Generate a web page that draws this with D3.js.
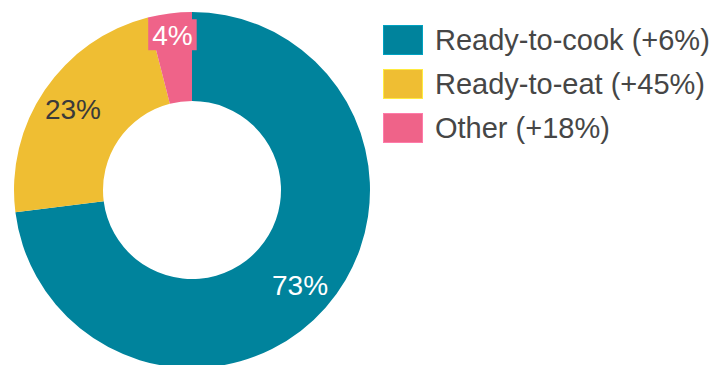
<!DOCTYPE html>
<html>
<head>
<meta charset="utf-8">
<script src="https://cdn.jsdelivr.net/npm/d3@7/dist/d3.min.js"></script>
<style>
  html, body { margin: 0; padding: 0; background: #fff; }
  svg { display: block; font-family: "Liberation Sans", Arial, sans-serif; }
</style>
</head>
<body>
<svg id="chart" width="720" height="365"></svg>
<script>
// Segment shares (percent) and growth figures shown in the legend
const categories = ["Ready-to-cook", "Ready-to-eat", "Other"];
const shares = [73, 23, 4];
const growth = ["+6%", "+45%", "+18%"];
const colors = ["#00839c", "#efbe33", "#ef6389"];
const labelColors = ["#ffffff", "#3a3a3a", "#ffffff"];

const svg = d3.select("#chart");
const cx = 192, cy = 190, outerR = 178, innerR = 89;

const data = categories.map((c, i) => ({ name: c, value: shares[i], growth: growth[i], i }));

const pie = d3.pie().value(d => d.value).sort(null);
const arc = d3.arc().innerRadius(innerR).outerRadius(outerR);
const arcs = pie(data);

const g = svg.append("g").attr("transform", `translate(${cx},${cy})`);

g.selectAll("path.slice")
  .data(arcs)
  .join("path")
  .attr("class", "slice")
  .attr("d", arc)
  .attr("fill", d => colors[d.data.i]);

// Labels sit slightly outside the ring's mid-line; thin slices get pushed further out
const labelArc = d => {
  const span = d.endAngle - d.startAngle;
  const r = span < 0.4 ? 156 : 144;
  return d3.arc().innerRadius(r).outerRadius(r).centroid(d);
};

const labels = g.selectAll("g.lbl")
  .data(arcs)
  .join("g")
  .attr("class", "lbl")
  .attr("transform", d => `translate(${labelArc(d)})`);

labels.each(function (d) {
  const sel = d3.select(this);
  const span = d.endAngle - d.startAngle;
  const t = sel.append("text")
    .attr("text-anchor", "middle")
    .attr("dy", "0.36em")
    .attr("font-size", 28)
    .attr("fill", labelColors[d.data.i])
    .text(d.data.value + "%");
  if (span < 0.4) {
    // small slice: give the label a backing box in the slice colour
    const bb = t.node().getBBox();
    sel.insert("rect", "text")
      .attr("x", bb.x - 4)
      .attr("y", -16)
      .attr("width", bb.width + 8)
      .attr("height", 31)
      .attr("fill", colors[d.data.i]);
  }
});

// Legend
const legend = svg.append("g").attr("transform", "translate(383,25)");
const rowH = 44;
const items = legend.selectAll("g.item")
  .data(data)
  .join("g")
  .attr("class", "item")
  .attr("transform", d => `translate(0,${d.i * rowH})`);

items.append("rect")
  .attr("x", 0.5).attr("y", 0.5)
  .attr("width", 39).attr("height", 29)
  .attr("fill", d => colors[d.i])
  .attr("stroke", d => d3.color(colors[d.i]).brighter(0.6))
  .attr("stroke-width", 1);

items.append("text")
  .attr("x", 52)
  .attr("y", 15)
  .attr("dy", "0.36em")
  .attr("font-size", 29)
  .attr("fill", "#464646")
  .text(d => `${d.name} (${d.growth})`);
</script>
</body>
</html>
